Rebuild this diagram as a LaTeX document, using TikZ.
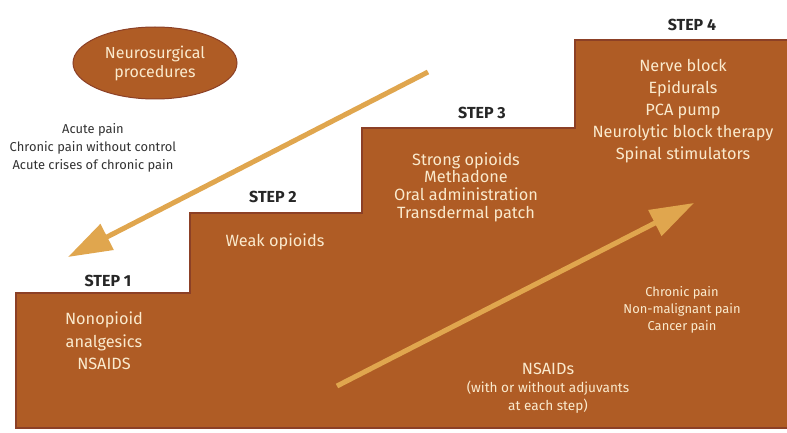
\documentclass[tikz,border=0pt]{standalone}
\usepackage{fontspec}
\setmainfont{Fira Sans}
\usetikzlibrary{arrows.meta,shapes.geometric}
\definecolor{stairbrown}{RGB}{175,92,37}
\definecolor{stairedge}{RGB}{140,64,38}
\definecolor{arrowgold}{RGB}{224,166,78}
\definecolor{cream}{RGB}{250,234,205}
\tikzset{
  steplabel/.style={text=black!85, font=\fontsize{16}{18}\selectfont\bfseries},
  stairtext/.style={text=cream, align=center, font=\fontsize{16.3}{22}\selectfont},
  smalltext/.style={align=center, font=\fontsize{12.9}{18}\selectfont},
  bigarrow/.style={arrowgold, line width=5pt, -{Triangle[length=44pt,width=28pt]}}
}
\begin{document}
\begin{tikzpicture}[x=1pt, y=-1pt]
    \useasboundingbox (0,0) rectangle (787,433);
    % Staircase
    \draw[stairedge, line width=1.5pt, fill=stairbrown] (16,428) -- (16,293) -- (190,293) -- (190,213) -- (362,213) -- (362,128) -- (575,128) -- (575,40) -- (790,40) -- (790,428) --cycle;
    % Ellipse
    \node[ellipse, draw=stairedge, line width=1pt, fill=stairbrown, minimum width=164pt, minimum height=72pt, inner sep=0pt,
          text=cream, align=center, font=\fontsize{16}{19}\selectfont] (neuro) at (155,63) {Neurosurgical\\procedures};
    % Left texts
    \node[smalltext, text=black!80] (acute) at (93,148) {Acute pain\\Chronic pain without control\\Acute crises of chronic pain};
    % Step labels
    \node[steplabel] (s1) at (108,281) {STEP 1};
    \node[steplabel] (s2) at (273,197) {STEP 2};
    \node[steplabel] (s3) at (482,113) {STEP 3};
    \node[steplabel] (s4) at (692,25) {STEP 4};
    % Step contents
    \node[stairtext, font=\fontsize{16.3}{22.5}\selectfont] (t1) at (104,341) {Nonopioid\\analgesics\\NSAIDS};
    \node[stairtext] (t2) at (275,242) {Weak opioids};
    \node[stairtext, font=\fontsize{16.3}{17.7}\selectfont] (t3) at (466,187) {Strong opioids\\Methadone\\Oral administration\\Transdermal patch};
    \node[stairtext] (t4) at (683,111) {Nerve block\\Epidurals\\PCA pump\\Neurolytic block therapy\\Spinal stimulators};
    \node[smalltext, text=cream, font=\fontsize{12.9}{17}\selectfont] (pain) at (682,310) {Chronic pain\\Non-malignant pain\\Cancer pain};
    \node[stairtext] (nsaid) at (548,369) {NSAIDs};
    \node[smalltext, text=cream, font=\fontsize{13.6}{18}\selectfont] (adj) at (548,397) {(with or without adjuvants\\at each step)};
    % Arrows
    \coordinate (downstart) at (428,72);
    \coordinate (downend) at (68,257);
    \coordinate (upstart) at (337,386);
    \coordinate (upend) at (694,203);
    \draw[bigarrow] (downstart) -- (downend);
    \draw[bigarrow] (upstart) -- (upend);
\end{tikzpicture}
\end{document}
